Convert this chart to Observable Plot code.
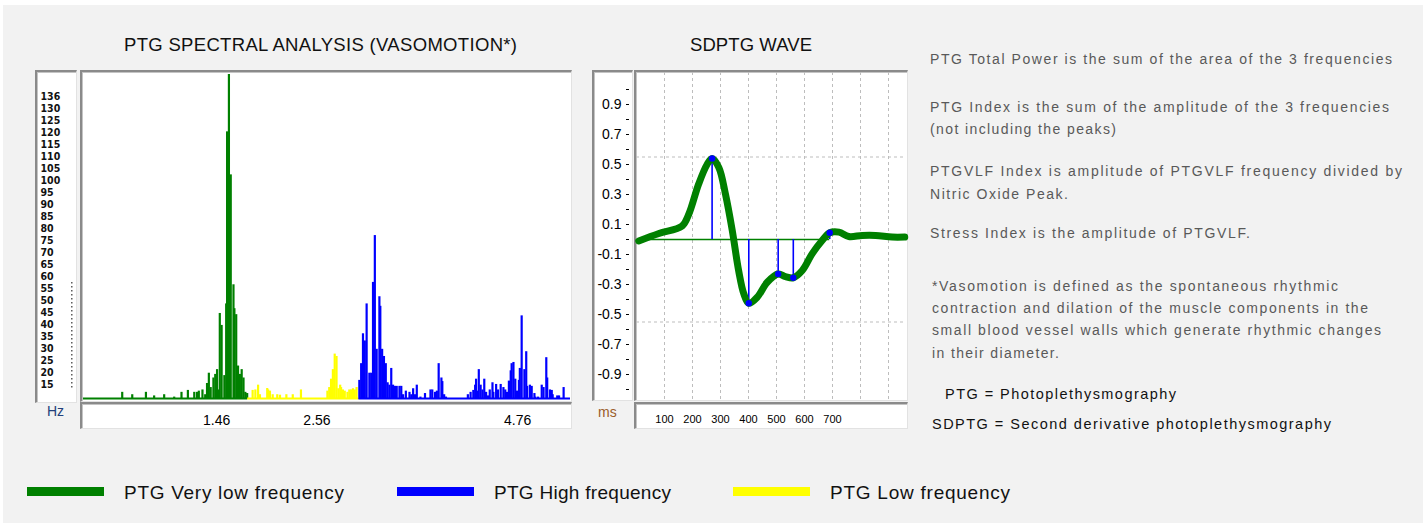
<!DOCTYPE html>
<html><head><meta charset="utf-8">
<script src="https://cdn.jsdelivr.net/npm/d3@7"></script>
<script src="https://cdn.jsdelivr.net/npm/@observablehq/plot@0.6"></script>
<style>
body{margin:0;background:#fff;font-family:"Liberation Sans",Arial,sans-serif;width:1423px;height:527px;overflow:hidden;position:relative;}
#panel{position:absolute;left:3px;top:5px;width:1420px;height:518px;background:#f2f2f2;}
.box{position:absolute;box-sizing:border-box;background:#fff;border-style:solid;border-width:2px 1px 1px 2px;border-color:#8a8a8a #e2e2e2 #e2e2e2 #8a8a8a;box-shadow:inset 1px 1px 0 #c4c4c4;}
.abs{position:absolute;}
.t{position:absolute;white-space:nowrap;line-height:1;}
</style></head><body><div id="panel"></div>
<script>
// ---------- DATA ----------
// PTG spectrum (Hz, amplitude) per band
const vlfFreq = [0.43,0.54,0.69,0.78,0.89,1.00,1.08,1.15,1.22,1.25,1.27,1.31,1.34,1.36,1.38,1.40,1.43,1.45,1.47,1.48,1.50,1.52,1.55,1.57,1.58,1.60,1.62,1.65,1.66,1.68,1.70,1.72,1.74,1.76,1.78,1.80];
const vlfAmp  = [3,2,3,1.5,2,1,3,3.8,3,3,3.5,4,2,6.7,11,5,9,10.5,12.5,4,36,31,10,40,112,136,94,48,38,35.5,14,10.5,12.5,9,3,2.5];
const lfFreq = [1.86,1.89,1.92,1.94,2.02,2.03,2.05,2.08,2.13,2.16,2.23,2.30,2.39,2.68,2.70,2.72,2.74,2.76,2.78,2.80,2.82,2.83,2.85,2.87,2.90,2.92,2.94,2.96,2.98,3.00];
const lfAmp  = [3.8,4,6,2,4.6,4,3.5,2,2,1.8,2,2,4,3.5,5,8.5,12.5,19,18,4.5,6,5,4,3.5,3,4,4,4.5,4,5];
const hfFreq = [3.03,3.05,3.07,3.09,3.11,3.14,3.16,3.18,3.20,3.22,3.25,3.26,3.28,3.30,3.32,3.34,3.36,3.38,3.40,3.42,3.44,3.47,3.49,3.51,3.54,3.58,3.60,3.62,3.64,3.66,3.70,3.75,3.81,3.83,3.86,3.88,3.90,3.93,3.94,3.96,3.98,4.22,4.25,4.28,4.30,4.31,4.32,4.34,4.36,4.38,4.40,4.42,4.44,4.46,4.49,4.50,4.53,4.55,4.58,4.61,4.63,4.65,4.67,4.69,4.70,4.72,4.74,4.76,4.78,4.79,4.81,4.84,4.86,4.87,4.90,4.92,4.95,4.96,4.99,5.03,5.05,5.08,5.09,5.12,5.14,5.15,5.20,5.22,5.27];
const hfAmp  = [8,15,27.5,24.5,40,11,11,49,68.6,21,43,39,21,18,15,7,6,13,6,5.5,5.5,5.5,5.5,2,3.5,3,2,4.5,2,6,1,2.5,4,4,3,3.5,15,9,7.5,2,1,2,3,3.8,6,8.5,3.5,12.5,6,4,8.5,3,1.5,4,7,3,6.3,4,6.3,5,4,3,7.7,12,15,15.5,8.5,3.5,8,13,35,12.5,20,5.5,6,5.5,2.5,1,1,6,5,17.5,9,4,3.8,2,1.5,1.5,5];
const bandNames = ["PTG Very low frequency","PTG Low frequency","PTG High frequency"];
const bandStart = [0, 1.80, 3.02];
const bandEnd   = [1.80, 3.02, 5.34];
const bandColors = ["#008000","#ffff00","#0000ff"];
const hzTicks = [1.46, 2.56, 4.76];
const specYLabels = [136,130,125,120,115,110,105,100,95,90,85,80,75,70,65,60,55,50,45,40,35,30,25,20,15];

// SDPTG wave (ms, value)
const waveT = [8,80,163,187,222,252,270,294,318,342,365,383,401,431,467,506,532,560,592,627,663,690,723,758,806,854,913,958];
const waveV = [-0.01,0.04,0.09,0.17,0.37,0.50,0.54,0.48,0.30,0.06,-0.21,-0.36,-0.425,-0.385,-0.285,-0.23,-0.247,-0.255,-0.207,-0.096,-0.007,0.045,0.049,0.02,0.027,0.027,0.016,0.016];
const peakT = [270,401,506,560,690];
const peakV = [0.54,-0.425,-0.23,-0.255,0.045];
const zeroLineSpan = [8, 690];
const msTicks = [100,200,300,400,500,600,700];
const msGrid = [100,200,300,400,500,600,700,800,900];
const valGrid = [0.55,-0.55];
const valTickMarks = [1.0,0.9,0.8,0.7,0.6,0.5,0.4,0.3,0.2,0.1,0,-0.1,-0.2,-0.3,-0.4,-0.5,-0.6,-0.7,-0.8,-0.9,-1.0];
const valTickLabels = [0.9,0.7,0.5,0.3,0.1,-0.1,-0.3,-0.5,-0.7,-0.9];

// Texts
const titles = ["PTG SPECTRAL ANALYSIS (VASOMOTION*)", "SDPTG WAVE"];
const notes = [
  "PTG Total Power is the sum of the area of the 3 frequencies",
  "PTG Index is the sum of the amplitude of the 3 frequencies",
  "(not including the peaks)",
  "PTGVLF Index is amplitude of PTGVLF frequency divided by",
  "Nitric Oxide Peak.",
  "Stress Index is the amplitude of PTGVLF.",
  "*Vasomotion is defined as the spontaneous rhythmic",
  "contraction and dilation of the muscle components in the",
  "small blood vessel walls which generate rhythmic changes",
  "in their diameter."
];
const abbreviations = ["PTG = Photoplethysmography", "SDPTG = Second derivative photoplethysmography"];
const legendLabels = ["PTG Very low frequency","PTG High frequency","PTG Low frequency"];
const legendColors = ["#008000","#0000ff","#ffff00"];

// ---------- LAYOUT HELPERS ----------
const FONT = '"Liberation Sans", Arial, sans-serif';
const NARROW = '"Liberation Sans Narrow", "DejaVu Sans Condensed", "Liberation Sans", Arial, sans-serif';
function addText(txt, left, cy, width, size, color, weight) {
  const d = document.createElement("div");
  d.className = "t";
  d.textContent = txt;
  d.style.left = left + "px";
  d.style.top = (cy - size * 0.49) + "px";
  d.style.fontSize = size + "px";
  d.style.fontFamily = FONT;
  d.style.color = color;
  if (weight) d.style.fontWeight = weight;
  document.body.appendChild(d);
  if (width) {
    const w = d.getBoundingClientRect().width;
    if (w > width) {
      d.style.transformOrigin = "0 50%";
      d.style.transform = "scaleX(" + (width / w) + ")";
    } else {
      d.style.letterSpacing = ((width - w) / Math.max(1, txt.length - 1)) + "px";
    }
  }
  return d;
}
function addBox(left, top, w, h) {
  const b = document.createElement("div");
  b.className = "box";
  Object.assign(b.style, {left: left + "px", top: top + "px", width: w + "px", height: h + "px"});
  document.body.appendChild(b);
}
function place(el, left, top) {
  el.style.position = "absolute";
  el.style.left = left + "px";
  el.style.top = top + "px";
  document.body.appendChild(el);
}

// ---------- TITLES ----------
addText(titles[0], 124, 45, 393, 18.5, "#111");
addText(titles[1], 690, 45, 122, 18.5, "#111");

// ---------- SPECTRUM ----------
addBox(35, 70, 42, 333);
addBox(80, 70, 492, 332);
addBox(80, 402, 492, 27);
addText("Hz", 47, 411, null, 14, "#23407a");

const spec = [];
const addBand = (fs, as, band) => fs.forEach((f, i) => spec.push({f, a: as[i], band}));
addBand(vlfFreq, vlfAmp, bandNames[0]);
addBand(lfFreq, lfAmp, bandNames[1]);
addBand(hfFreq, hfAmp, bandNames[2]);
const bands = bandNames.map((b, i) => ({band: b, x1: bandStart[i], x2: bandEnd[i]}));
const halfW = 0.012;

const specPlot = Plot.plot({
  width: 488, height: 356,
  marginTop: 2, marginBottom: 29, marginLeft: 0, marginRight: 1,
  x: {domain: [0, 5.34], label: null},
  y: {domain: [0, 136], axis: null, label: null},
  color: {domain: bandNames, range: bandColors},
  style: {background: "transparent", overflow: "visible", fontFamily: FONT, fontSize: "14px", color: "#000"},
  marks: [
    Plot.rect(spec, {x1: d => d.f - halfW, x2: d => d.f + halfW, y1: 0, y2: "a", fill: "band"}),
    Plot.ruleY(bands, {y: 0, x1: "x1", x2: "x2", stroke: "band", strokeWidth: 2, dy: -1}),
    Plot.axisX(hzTicks, {anchor: "bottom", label: null, tickSize: 0, tickPadding: 16, tickFormat: d => d.toFixed(2), fontSize: 14})
  ]
});
place(specPlot, 83, 72);

const labPlot = Plot.plot({
  width: 39, height: 330, margin: 0,
  x: {domain: [0, 1], range: [0, 39], axis: null, label: null},
  y: {type: "point", domain: specYLabels, range: [16, 319], axis: null, label: null},
  style: {background: "transparent", overflow: "visible", fontFamily: NARROW, color: "#000"},
  marks: [
    Plot.text(specYLabels, {x: 0, y: d => d, text: d => String(d), textAnchor: "start", dx: 3, fontSize: 10.5, fontWeight: "bold", fill: "#111"}),
    Plot.ruleX([0.88], {y1: () => 60, y2: () => 15, dy: 6, stroke: "#333", strokeDasharray: "1.5,2.5", strokeWidth: 1.2})
  ]
});
place(labPlot, 37, 72);

// ---------- SDPTG ----------
addBox(592, 70, 41, 331);
addBox(634, 70, 274, 331);
addBox(634, 402, 274, 27);
addText("ms", 598, 412, null, 14, "#9a5c28");

const wave = waveT.map((t, i) => ({t, v: waveV[i]}));
const peaks = peakT.map((t, i) => ({t, v: peakV[i]}));

const sdPlot = Plot.plot({
  width: 312, height: 356,
  marginLeft: 42, marginRight: 1, marginTop: 0, marginBottom: 28,
  x: {domain: [0, 960], range: [42, 310.8], label: null},
  y: {domain: [-1, 1], range: [317, 17], label: null},
  style: {background: "transparent", overflow: "visible", fontFamily: FONT, color: "#000"},
  marks: [
    Plot.ruleX(msGrid, {stroke: "#bdbdbd", strokeDasharray: "3,3"}),
    Plot.ruleY(valGrid, {stroke: "#bdbdbd", strokeDasharray: "3,3"}),
    Plot.ruleY([0], {x1: zeroLineSpan[0], x2: zeroLineSpan[1], stroke: "#008000", strokeWidth: 1.5}),
    Plot.ruleX(peaks, {x: "t", y1: 0, y2: "v", stroke: "#0000ff", strokeWidth: 1.6}),
    Plot.line(wave, {x: "t", y: "v", stroke: "#008000", strokeWidth: 7, curve: "catmull-rom", strokeLinecap: "round"}),
    Plot.dot(peaks, {x: "t", y: "v", r: 3.2, fill: "#0000ff"}),
    Plot.axisY(valTickMarks, {anchor: "left", label: null, tickSize: 3, tickFormat: () => "", dx: -7}),
    Plot.axisY(valTickLabels, {anchor: "left", label: null, tickSize: 0, tickPadding: 15, tickFormat: d => d.toFixed(1), fontSize: 14}),
    Plot.axisX(msTicks, {anchor: "bottom", label: null, tickSize: 0, tickPadding: 15, fontSize: 11})
  ]
});
place(sdPlot, 594, 72);

// ---------- NOTES ----------
const noteLeft = [930,930,930,930,930,930,932,932,932,932];
const noteY = [59,107,129,171,194,233,286,308,330,353];
const noteW = [462,459,186,472,138,320,406,436,449,127];
notes.forEach((n, i) => addText(n, noteLeft[i], noteY[i], noteW[i], 14, "#595959"));
addText(abbreviations[0], 945, 394, 231, 14.5, "#111");
addText(abbreviations[1], 932, 424, 399, 14.5, "#111");

// ---------- LEGEND ----------
const swLeft = [27, 397, 733];
const txLeft = [124, 494, 830];
const txW = [220, 177, 180];
legendLabels.forEach((l, i) => {
  const s = document.createElement("div");
  s.className = "abs";
  Object.assign(s.style, {left: swLeft[i] + "px", top: "487px", width: "77px", height: "9px", background: legendColors[i]});
  document.body.appendChild(s);
  addText(l, txLeft[i], 492, txW[i], 19, "#111");
});
</script>
</body></html>
